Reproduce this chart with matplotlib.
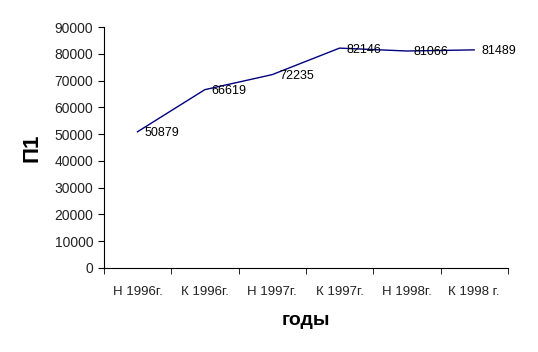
import matplotlib
matplotlib.use('Agg')
import matplotlib.pyplot as plt
import numpy as np

plt.rcParams['font.family'] = ['Liberation Sans', 'DejaVu Sans']

periods = ['Н 1996г.', 'К 1996г.', 'Н 1997г.', 'К 1997г.', 'Н 1998г.', 'К 1998 г.']
p1 = [50879, 66619, 72235, 82146, 81066, 81489]

fig = plt.figure(figsize=(5.38, 3.52), dpi=100)
ax = fig.add_axes([0.193, 0.239, 0.751, 0.684])

x = np.arange(len(periods))
ax.plot(x, p1, color='#000080', lw=1)

for xi, v in zip(x, p1):
    ax.annotate(str(v), (xi, v), xytext=(5, -1), textcoords='offset points',
                ha='left', va='center', fontsize=9)

ax.set_xlim(-0.5, len(periods) - 0.5)
ax.set_ylim(0, 90000)
ax.set_yticks(np.arange(0, 90001, 10000))
ax.tick_params(axis='y', labelsize=10, length=4, direction='out', labelcolor='#222222')

ax.set_xticks(x)
ax.set_xticklabels(periods, fontsize=9.5, color='#222222')
ax.set_xticks(np.arange(-0.5, len(periods)), minor=True)
ax.tick_params(axis='x', which='major', length=0, pad=13)
ax.tick_params(axis='x', which='minor', length=4, direction='out')

for s in ['top', 'right']:
    ax.spines[s].set_visible(False)

ax.set_ylabel('П1', fontsize=16, fontweight='bold', labelpad=9)
ax.set_xlabel('годы', fontsize=14, fontweight='bold', labelpad=10)

fig.savefig('out.png', dpi=100)
